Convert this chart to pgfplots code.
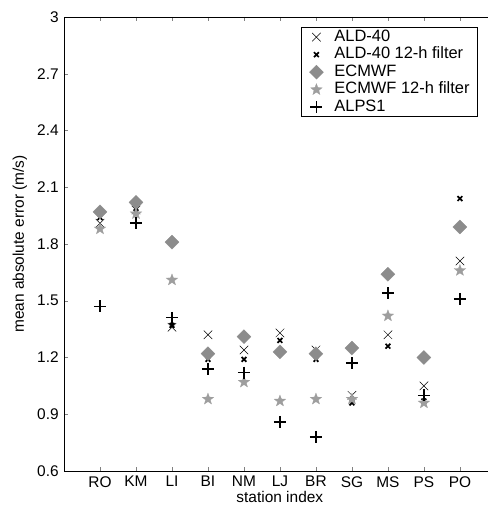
\documentclass[border=0pt]{standalone}
\usepackage{pgfplots}
\usepackage{pgfplotstable}
\pgfplotsset{compat=1.18}
\usepackage{fontspec}
\setmainfont{Liberation Sans}
\pgfplotstableread{
x ald ald12 ecm ecm12 alps
1 1.91 1.94 1.97 1.88 1.47
2 1.98 1.97 2.02 1.96 1.91
3 1.36 1.37 1.81 1.61 1.41
4 1.32 1.19 1.22 0.98 1.14
5 1.24 1.19 1.31 1.07 1.12
6 1.33 1.29 1.23 0.97 0.86
7 1.24 1.19 1.22 0.98 0.78
8 1.00 0.96 1.25 0.98 1.17
9 1.32 1.26 1.64 1.42 1.54
10 1.05 0.97 1.20 0.96 1.00
11 1.71 2.04 1.89 1.66 1.51
}\datatable
\definecolor{dgray}{gray}{0.55}
\definecolor{sgray}{gray}{0.62}
\pgfdeclareplotmark{fstar}{%
  \pgfpathmoveto{\pgfpointpolar{90}{\pgfplotmarksize}}%
  \pgfpathlineto{\pgfpointpolar{126}{0.42*\pgfplotmarksize}}%
  \pgfpathlineto{\pgfpointpolar{162}{\pgfplotmarksize}}%
  \pgfpathlineto{\pgfpointpolar{198}{0.42*\pgfplotmarksize}}%
  \pgfpathlineto{\pgfpointpolar{234}{\pgfplotmarksize}}%
  \pgfpathlineto{\pgfpointpolar{270}{0.42*\pgfplotmarksize}}%
  \pgfpathlineto{\pgfpointpolar{306}{\pgfplotmarksize}}%
  \pgfpathlineto{\pgfpointpolar{342}{0.42*\pgfplotmarksize}}%
  \pgfpathlineto{\pgfpointpolar{18}{\pgfplotmarksize}}%
  \pgfpathlineto{\pgfpointpolar{54}{0.42*\pgfplotmarksize}}%
  \pgfpathclose\pgfusepathqfillstroke}
\pgfdeclareplotmark{sqdiamond}{%
  \pgfpathmoveto{\pgfqpoint{0pt}{\pgfplotmarksize}}%
  \pgfpathlineto{\pgfqpoint{\pgfplotmarksize}{0pt}}%
  \pgfpathlineto{\pgfqpoint{0pt}{-\pgfplotmarksize}}%
  \pgfpathlineto{\pgfqpoint{-\pgfplotmarksize}{0pt}}%
  \pgfpathclose\pgfusepathqfillstroke}
\begin{document}
\fontsize{15.5}{18}\selectfont
\begin{tikzpicture}[font=\fontsize{15.5}{18}\selectfont]
\begin{axis}[
  scale only axis, width=424bp, height=454bp,
  enlargelimits=false,
  xmin=0, xmax=11.78, ymin=0.6, ymax=3,
  axis x line*=box, axis y line*=left,
  tick align=inside, major tick length=4bp,
  every tick label/.append style={font=\fontsize{15.5}{18}\selectfont},
  label style={font=\fontsize{15.5}{18}\selectfont},
  xtick={1,...,11}, xticklabels={RO,KM,LI,BI,NM,LJ,BR,SG,MS,PS,PO},
  ytick={0.6,0.9,1.2,1.5,1.8,2.1,2.4,2.7,3},
  yticklabels={0.6,0.9,1.2,1.5,1.8,2.1,2.4,2.7,3},
  xlabel={station index}, ylabel={mean absolute error (m/s)},
  xlabel style={at={(axis description cs:0.509,-0.057)}, anchor=center},
  ylabel style={at={(axis description cs:-0.104,0.5)}, anchor=center},
  axis line style={line width=0.8pt},
  legend image code/.code={\draw[mark repeat=2,mark phase=2,#1] plot coordinates {(0bp,0bp) (14bp,0bp) (28bp,0bp)};},
  legend style={at={(rel axis cs:0.559,0.978)}, anchor=north west, draw=black, line width=0.8pt,
    font=\fontsize{16.5}{18}\selectfont, row sep=0bp, column sep=11bp, inner xsep=8bp, inner ysep=1bp,
    nodes={inner xsep=0bp, inner ysep=1.75bp, text height=11bp, text depth=3bp}},
  legend cell align=left,
]
\addplot[only marks, mark=x, mark size=6bp, draw=black, line width=0.5pt] table[x=x,y=ald] {\datatable};
\addlegendentry{ALD-40}
\addplot[only marks, mark=x, mark size=3.4bp, draw=black, line width=1.7pt] table[x=x,y=ald12] {\datatable};
\addlegendentry{ALD-40 12-h filter}
\addplot[only marks, mark=sqdiamond, mark size=7bp, draw=dgray, fill=dgray, line width=0.3pt] table[x=x,y=ecm] {\datatable};
\addlegendentry{ECMWF}
\addplot[only marks, mark=fstar, mark size=6bp, draw=sgray, fill=sgray, line width=0.3pt] table[x=x,y=ecm12] {\datatable};
\addlegendentry{ECMWF 12-h filter}
\addplot[only marks, mark=+, mark size=6bp, draw=black, line width=1.4pt] table[x=x,y=alps] {\datatable};
\addlegendentry{ALPS1}
\end{axis}
\pgfresetboundingbox
\path ([shift={(-64bp,-42bp)}]current axis.south west) rectangle ([shift={(0bp,17bp)}]current axis.north east);
\end{tikzpicture}
\end{document}
